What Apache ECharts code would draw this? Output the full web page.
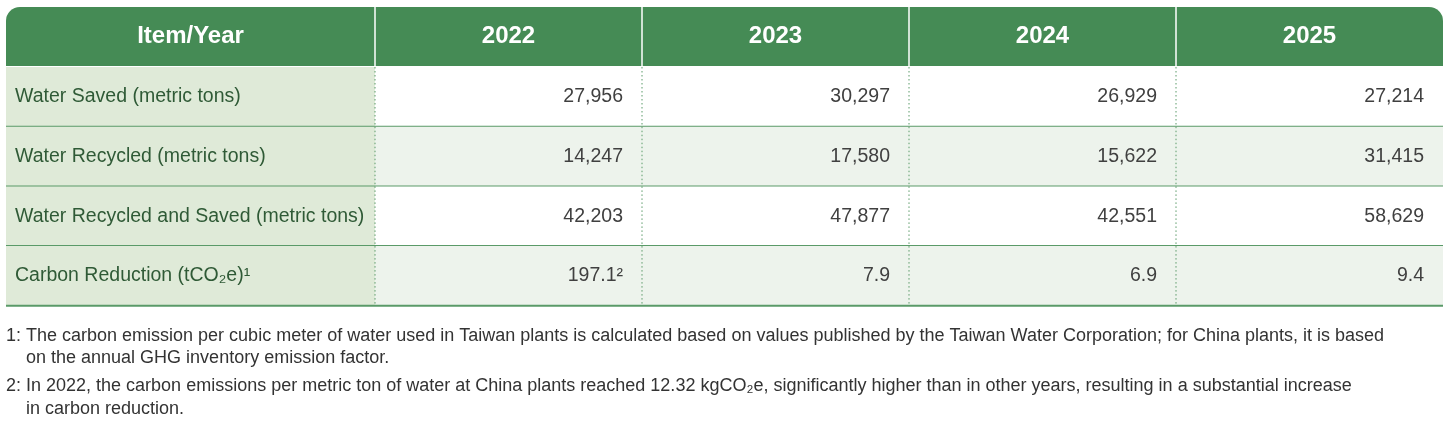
<!DOCTYPE html>
<html><head><meta charset="utf-8">
<script src="https://cdn.jsdelivr.net/npm/echarts@6/dist/echarts.min.js"></script>
<style>html,body{margin:0;padding:0;background:#fff}#c{width:1448px;height:428px}</style>
</head><body><div id="c"></div>
<script>
const headers = ['Item/Year','2022','2023','2024','2025'];
const items = ['Water Saved (metric tons)','Water Recycled (metric tons)','Water Recycled and Saved (metric tons)','Carbon Reduction (tCO₂e)¹'];
const v2022 = ['27,956','14,247','42,203','197.1²'];
const v2023 = ['30,297','17,580','47,877','7.9'];
const v2024 = ['26,929','15,622','42,551','6.9'];
const v2025 = ['27,214','31,415','58,629','9.4'];
const notes = [
 '1: The carbon emission per cubic meter of water used in Taiwan plants is calculated based on values published by the Taiwan Water Corporation; for China plants, it is based',
 '    on the annual GHG inventory emission factor.',
 '2: In 2022, the carbon emissions per metric ton of water at China plants reached 12.32 kgCO₂e, significantly higher than in other years, resulting in a substantial increase',
 '    in carbon reduction.'
];
const cols = [v2022,v2023,v2024,v2025];
const colX = [6,375,642,909,1176,1443];
const headTop = 7, headH = 59, rowH = 59.7;
const font = '"Liberation Sans", Arial, sans-serif';
const g = [];
g.push({type:'rect',shape:{x:colX[0],y:headTop,width:colX[5]-colX[0],height:headH,r:[14,14,0,0]},style:{fill:'#458b55'}});
headers.forEach((h,i)=>{
  if(i>0) g.push({type:'line',shape:{x1:colX[i],y1:headTop,x2:colX[i],y2:headTop+headH},style:{stroke:'#fff',lineWidth:1.5}});
  g.push({type:'text',x:(colX[i]+colX[i+1])/2,y:headTop+headH/2,style:{text:h,fill:'#fff',font:'bold 24px '+font,align:'center',verticalAlign:'middle'}});
});
items.forEach((it,r)=>{
  const y = headTop+headH+1+r*rowH;
  g.push({type:'rect',shape:{x:colX[0],y:y,width:colX[1]-colX[0],height:rowH},style:{fill:'#dfead8'}});
  g.push({type:'rect',shape:{x:colX[1],y:y,width:colX[5]-colX[1],height:rowH},style:{fill:r%2?'#edf3ec':'#ffffff'}});
  g.push({type:'text',x:colX[0]+9,y:y+rowH/2,style:{text:it,fill:'#2f5a36',font:'19.5px '+font,align:'left',verticalAlign:'middle'}});
  cols.forEach((c,j)=>{
    g.push({type:'text',x:colX[j+2]-19,y:y+rowH/2,style:{text:c[r],fill:'#404040',font:'19.5px '+font,align:'right',verticalAlign:'middle'}});
  });
  for(let j=1;j<5;j++) g.push({type:'line',shape:{x1:colX[j],y1:y,x2:colX[j],y2:y+rowH},style:{stroke:'#5a9a68',lineWidth:1,lineDash:[1.5,2.5]}});
  g.push({type:'line',shape:{x1:colX[0],y1:y+rowH,x2:colX[5],y2:y+rowH},style:{stroke:'#5a9a68',lineWidth:2}});
});
const ny = [336,358,386,409];
notes.forEach((n,i)=>g.push({type:'text',x:6,y:ny[i],style:{text:n,fill:'#333',font:'18px '+font,verticalAlign:'middle'}}));
const chart = echarts.init(document.getElementById('c'));
chart.setOption({animation:false,graphic:g});
</script></body></html>
